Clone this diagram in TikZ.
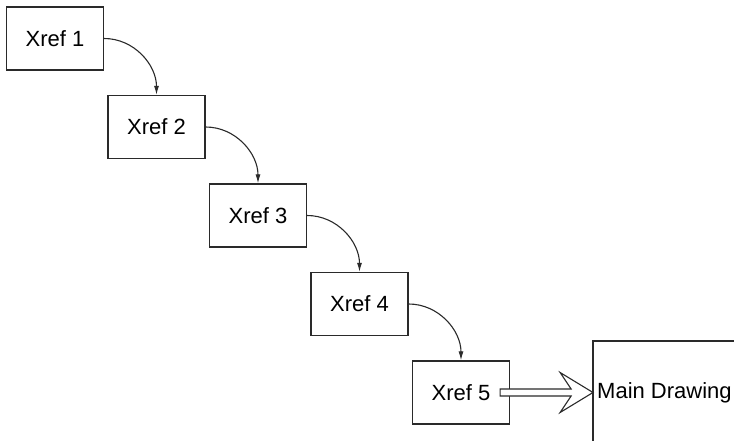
\documentclass[tikz,border=0pt]{standalone}
\usepackage{fontspec}
\setmainfont{Liberation Sans}
\usetikzlibrary{arrows.meta,calc}
\definecolor{ink}{HTML}{2A2A2A}
\begin{document}
\begin{tikzpicture}[x=1pt,y=-1pt,
  xbox/.style={draw=ink, line width=1.2pt, minimum width=97pt, minimum height=63pt, inner sep=0pt, font=\fontsize{22}{26}\selectfont},
  link/.style={draw=ink, line width=1.1pt, -{Latex[length=9pt,width=5pt]}},
  bigarrow/.style={draw=ink, line width=1.1pt, fill=white, line join=miter}]
\useasboundingbox (0,0) rectangle (734,441);
\node[xbox] (x1) at (55,38.5) {Xref 1};
\node[xbox] (x2) at (156.5,127) {Xref 2};
\node[xbox] (x3) at (258,215.5) {Xref 3};
\node[xbox] (x4) at (359.5,304) {Xref 4};
\node[xbox] (x5) at (461,392.5) {Xref 5};
\draw[link] (x1.east) to[out=0,in=90] (x2.north);
\draw[link] (x2.east) to[out=0,in=90] (x3.north);
\draw[link] (x3.east) to[out=0,in=90] (x4.north);
\draw[link] (x4.east) to[out=0,in=90] (x5.north);
% main drawing (open box)
\node[anchor=west, inner sep=0pt, font=\fontsize{22}{26}\selectfont] (main) at (597,392.5) {Main Drawing};
\draw[draw=ink, line width=1.2pt] (593,445) -- (593,341) -- (740,341);
% hollow arrow
\draw[bigarrow]
  ($(x5.east)+(-10,-3.5)$) -- ($(x5.east)+(61,-3.5)$) -- ($(x5.east)+(50,-20)$)
  -- ($(main.west)+(-4,0)$)
  -- ($(x5.east)+(50,20)$) -- ($(x5.east)+(61,3.5)$) -- ($(x5.east)+(-10,3.5)$) -- cycle;
\end{tikzpicture}
\end{document}
